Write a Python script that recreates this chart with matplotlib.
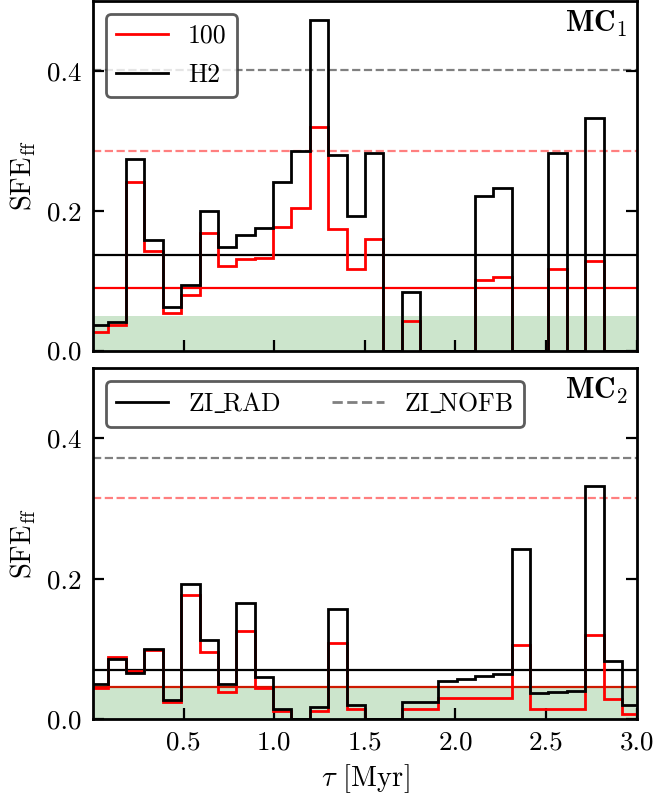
import matplotlib
matplotlib.use("Agg")
import matplotlib.pyplot as plt

plt.rcParams['font.family'] = 'serif'
plt.rcParams['font.serif'] = ['cmr10']
plt.rcParams['mathtext.fontset'] = 'cm'
plt.rcParams['axes.formatter.use_mathtext'] = True
plt.rcParams['font.size'] = 19

# ---- data ----
bin_edges = [-0.02, 0.081, 0.183, 0.284, 0.385, 0.487, 0.588, 0.689, 0.791, 0.892,
             0.993, 1.095, 1.196, 1.297, 1.399, 1.5, 1.601, 1.703, 1.804, 1.905,
             2.007, 2.108, 2.209, 2.311, 2.412, 2.513, 2.615, 2.716, 2.817, 2.919, 3.02]

mc1_h2 = [0.036, 0.041, 0.274, 0.158, 0.062, 0.093, 0.199, 0.148, 0.165, 0.175,
          0.241, 0.285, 0.473, 0.280, 0.193, 0.283, 0.0, 0.084, 0.0, 0.0,
          0.0, 0.221, 0.232, 0.0, 0.0, 0.283, 0.0, 0.333, 0.0, 0.0]
mc1_100 = [0.026, 0.036, 0.241, 0.142, 0.053, 0.079, 0.168, 0.121, 0.131, 0.133,
           0.177, 0.204, 0.320, 0.174, 0.117, 0.160, 0.0, 0.042, 0.0, 0.0,
           0.0, 0.101, 0.105, 0.0, 0.0, 0.117, 0.0, 0.128, 0.0, 0.0]

mc2_h2 = [0.050, 0.086, 0.066, 0.100, 0.027, 0.193, 0.113, 0.050, 0.165, 0.060,
          0.015, 0.0, 0.018, 0.157, 0.021, 0.0, 0.0, 0.025, 0.025, 0.054,
          0.057, 0.061, 0.065, 0.243, 0.038, 0.039, 0.040, 0.333, 0.083, 0.020]
mc2_100 = [0.044, 0.089, 0.069, 0.099, 0.025, 0.177, 0.096, 0.039, 0.126, 0.044,
           0.012, 0.0, 0.012, 0.109, 0.014, 0.0, 0.0, 0.014, 0.014, 0.031,
           0.031, 0.031, 0.031, 0.106, 0.014, 0.014, 0.014, 0.120, 0.029, 0.007]

# mean SFE levels: [H2 rad, 100 rad, H2 nofb, 100 nofb]
mc1_means = [0.137, 0.089, 0.402, 0.285]
mc2_means = [0.070, 0.046, 0.372, 0.315]
shade_top = [0.05, 0.048]

panel_labels = [r'$\mathbf{MC}_1$', r'$\mathbf{MC}_2$']
legend1_labels = ['100', 'H2']
legend2_labels = [r'$\mathrm{ZI\_\!RAD}$', r'$\mathrm{ZI\_\!NOFB}$']
xticks = [0.5, 1.0, 1.5, 2.0, 2.5, 3.0]
xticklabels = ['0.5', '1.0', '1.5', '2.0', '2.5', '3.0']
yticks = [0.0, 0.2, 0.4]
yticklabels = ['0.0', '0.2', '0.4']

FS = 19.5
LFS = 18.5
fig = plt.figure(figsize=(6.55, 7.99), dpi=100)
W, H = 655.0, 799.0
ax1 = fig.add_axes([93 / W, 1 - 350.5 / H, 543.7 / W, 349.5 / H])
ax2 = fig.add_axes([93 / W, 1 - 719.3 / H, 543.7 / W, 351.0 / H])

datasets = [(ax1, mc1_h2, mc1_100, mc1_means, shade_top[0], panel_labels[0]),
            (ax2, mc2_h2, mc2_100, mc2_means, shade_top[1], panel_labels[1])]

handles = []
for ax, h2, r100, means, shade, lab in datasets:
    l_h2 = ax.axhline(means[0], color='black', lw=1.6, zorder=1)
    l_100 = ax.axhline(means[1], color='red', lw=1.6, zorder=1)
    l_h2n = ax.axhline(means[2], color='gray', lw=1.6, ls='--', zorder=1)
    l_100n = ax.axhline(means[3], color='red', alpha=0.5, lw=1.6, ls='--', zorder=1)
    ax.axhspan(0, shade, color='green', alpha=0.2, lw=0, zorder=1.5)
    s100 = ax.stairs(r100, bin_edges, baseline=0, color='red', lw=2.0, zorder=2)
    sh2 = ax.stairs(h2, bin_edges, baseline=0, color='black', lw=2.0, zorder=2.5)
    handles.append((s100, sh2, l_h2, l_h2n))
    ax.set_xlim(0, 3.0)
    ax.set_ylim(0, 0.5)
    ax.set_xticks(xticks)
    ax.set_yticks(yticks)
    ax.set_yticklabels(yticklabels)
    ax.tick_params(direction='in', length=8, width=1.6, left=True, right=True,
                   bottom=True, top=False, pad=8, labelsize=FS)
    for sp in ax.spines.values():
        sp.set_linewidth(2.0)
    ax.set_ylabel(r'$\mathrm{SFE}_{\mathrm{ff}}$', fontsize=FS + 1, labelpad=7)
    ax.text(0.983, 0.978, lab, transform=ax.transAxes, ha='right', va='top',
            fontsize=FS + 2)

ax1.tick_params(labelbottom=False)
ax2.set_xticklabels(xticklabels)
ax2.set_xlabel(r'$\tau$ [Myr]', fontsize=FS + 1, labelpad=6)

s100, sh2, _, _ = handles[0]
leg1 = ax1.legend([s100, sh2], legend1_labels, loc='upper left', fontsize=LFS,
                  framealpha=0.8, edgecolor='0.2', fancybox=True, labelspacing=0.6)
_, _, l_rad, l_nofb = handles[1]
leg2 = ax2.legend([l_rad, l_nofb], legend2_labels,
                  loc='upper left', ncol=2, fontsize=LFS,
                  framealpha=0.8, edgecolor='0.2', fancybox=True)
for leg in (leg1, leg2):
    leg.get_frame().set_linewidth(2.0)
    for ln in leg.get_lines():
        ln.set_linewidth(2.0)

fig.align_ylabels([ax1, ax2])
fig.savefig('out.png', dpi=100)
